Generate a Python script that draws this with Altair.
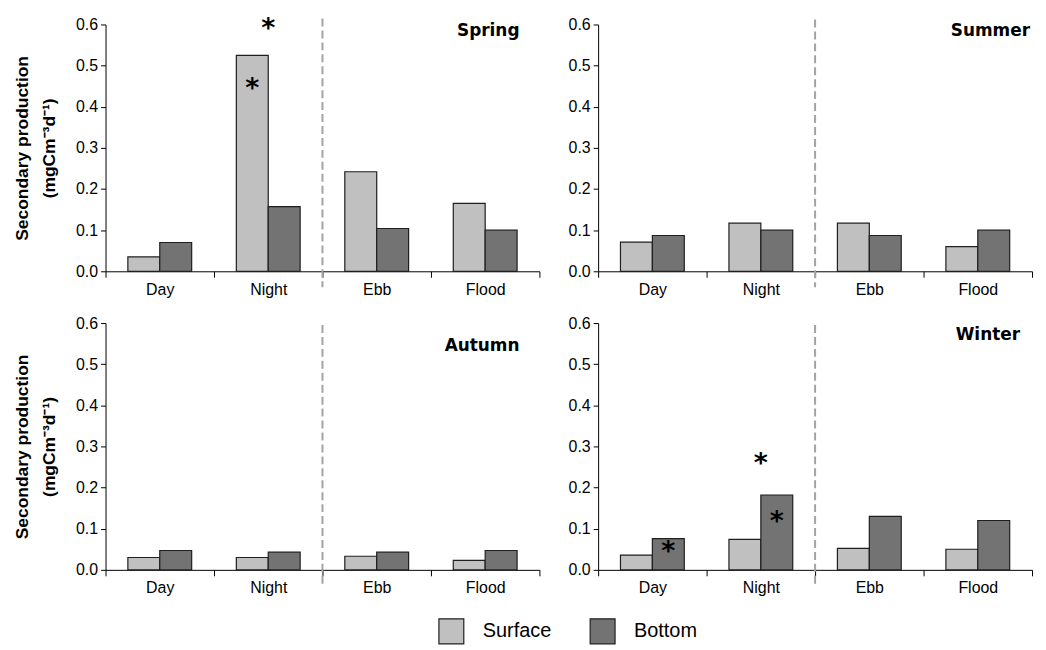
import altair as alt
import pandas as pd

periods = ["Day", "Night", "Ebb", "Flood"]
series = ["Surface", "Bottom"]
seasons = ["Spring", "Summer", "Autumn", "Winter"]

spring_surface = [0.035, 0.525, 0.242, 0.165]
spring_bottom = [0.070, 0.157, 0.104, 0.100]
summer_surface = [0.071, 0.117, 0.117, 0.060]
summer_bottom = [0.087, 0.100, 0.087, 0.100]
autumn_surface = [0.030, 0.030, 0.033, 0.023]
autumn_bottom = [0.047, 0.043, 0.043, 0.047]
winter_surface = [0.036, 0.074, 0.052, 0.050]
winter_bottom = [0.076, 0.182, 0.130, 0.120]

# significance asterisks ("Both" = centred over the pair of bars)
star_season = ["Spring", "Spring", "Winter", "Winter", "Winter"]
star_period = ["Night", "Night", "Night", "Night", "Day"]
star_series = ["Both", "Surface", "Both", "Bottom", "Bottom"]
star_value = [0.594, 0.447, 0.263, 0.120, 0.048]

values = {
    "Spring": (spring_surface, spring_bottom),
    "Summer": (summer_surface, summer_bottom),
    "Autumn": (autumn_surface, autumn_bottom),
    "Winter": (winter_surface, winter_bottom),
}
rows = []
for s in seasons:
    surf, bot = values[s]
    for i, p in enumerate(periods):
        rows.append({"season": s, "period": p, "series": "Surface", "value": surf[i]})
        rows.append({"season": s, "period": p, "series": "Bottom", "value": bot[i]})
bars = pd.DataFrame(rows)
stars = pd.DataFrame({"season": star_season, "period": star_period,
                      "series": star_series, "value": star_value})

W, H = 436, 248
FONT = "Liberation Sans"
Y_TITLE = ["Secondary production", "(mgCm\u207b\u00b3d\u207b\u00b9)"]

xscale = alt.Scale(domain=periods, paddingInner=0, paddingOuter=0)
offscale = alt.Scale(domain=series, paddingInner=0, paddingOuter=0.7)
yscale = alt.Scale(domain=[0, 0.6], nice=False, zero=True)


def panel(season, with_title, rule_top, lab_dx, lab_dy):
    xaxis = alt.Axis(title=None, tickBand="extent", labelAngle=0, tickSize=6,
                     labelPadding=4, labelFontSize=16)
    yaxis = alt.Axis(values=[0, 0.1, 0.2, 0.3, 0.4, 0.5, 0.6], format=".1f",
                     tickSize=5, labelPadding=3, labelFontSize=16,
                     title=Y_TITLE if with_title else None,
                     titleFontSize=17.5, titleFontWeight="bold", titleFont=FONT,
                     titleLineHeight=27, titlePadding=17)
    x = alt.X("period:N", sort=periods, scale=xscale, axis=xaxis)
    y = alt.Y("value:Q", scale=yscale, axis=yaxis)
    d = bars[bars.season == season]
    b = alt.Chart(d).mark_bar(stroke="#1f1f1f", strokeWidth=1.2).encode(
        x=x,
        xOffset=alt.XOffset("series:N", sort=series, scale=offscale),
        y=y,
        color=alt.Color("series:N", sort=series,
                        scale=alt.Scale(domain=series, range=["#c0c0c0", "#737373"]),
                        legend=alt.Legend(title=None, orient="none", direction="horizontal",
                                          legendX=334, legendY=596,
                                          symbolType="square", symbolSize=625,
                                          symbolStrokeColor="#1f1f1f", symbolStrokeWidth=1.2,
                                          labelFontSize=20, labelFont=FONT, labelColor="black",
                                          labelOffset=18, columnPadding=36)),
    )
    rule = alt.Chart(pd.DataFrame({"period": ["Ebb"]})).mark_rule(
        color="#a3a3a3", strokeDash=[8, 4], strokeWidth=2
    ).encode(
        x=alt.X("period:N", sort=periods, scale=xscale, bandPosition=0, axis=xaxis),
        y=alt.value(rule_top), y2=alt.value(H + 16),
    )
    label = alt.Chart(pd.DataFrame({"season": [season]})).mark_text(
        align="right", baseline="middle", font="DejaVu Sans", fontWeight="bold",
        fontSize=17, color="black"
    ).encode(text="season:N", x=alt.value(W - lab_dx), y=alt.value(lab_dy))
    layers = [b, rule, label]
    sd = stars[stars.season == season]
    sc = sd[sd.series == "Both"]
    sb = sd[sd.series != "Both"]
    star_style = dict(text="*", font="DejaVu Sans", fontWeight="bold", fontSize=27,
                      baseline="alphabetic", dy=10, color="black")
    if len(sc):
        layers.append(alt.Chart(sc).mark_text(**star_style).encode(x=x, y=y))
    if len(sb):
        layers.append(alt.Chart(sb).mark_text(**star_style).encode(
            x=x, xOffset=alt.XOffset("series:N", sort=series, scale=offscale), y=y))
    return alt.layer(*layers).properties(width=W, height=H)


top = alt.hconcat(panel("Spring", True, -6, 20, 7), panel("Summer", False, -5, 2, 7), spacing=27)
bottom = alt.hconcat(panel("Autumn", True, 2, 20, 23), panel("Winter", False, 2, 12, 12), spacing=27)

chart = alt.vconcat(top, bottom, spacing=18).configure_view(stroke=None).configure_axis(
    domainColor="black", tickColor="black", labelColor="black", titleColor="black",
    labelFont=FONT, grid=False, domainWidth=1, tickWidth=1
)

chart.save("out.html", embed_options={"renderer": "svg", "actions": False})
